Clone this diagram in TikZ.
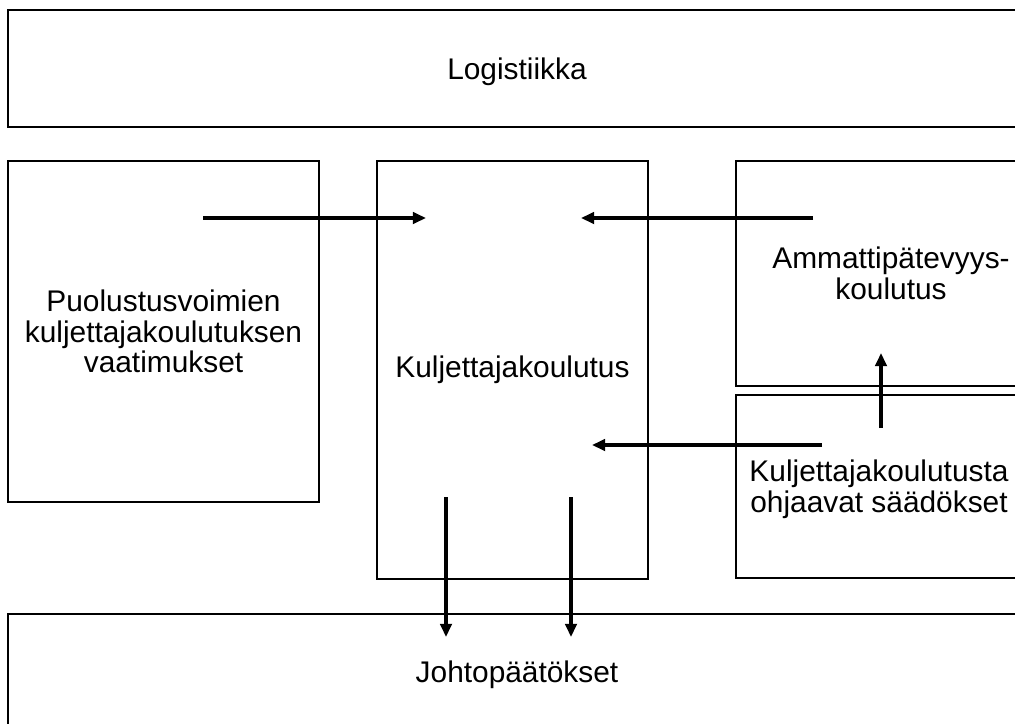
\documentclass[tikz,border=0pt]{standalone}
\usepackage{fontspec}
\setmainfont{Liberation Sans}
\usetikzlibrary{arrows.meta}

\tikzset{
  laatikko/.style={draw, line width=0.8pt, rectangle, inner sep=0pt, outer sep=0pt,
    align=center, font=\fontsize{17}{17.5}\selectfont},
  nuoli/.style={line width=2pt, -{Triangle[length=7.5pt,width=6.5pt]}}
}

\begin{document}
\begin{tikzpicture}[x=0.02cm, y=-0.02cm]
    \useasboundingbox (0,0) rectangle (1015,724);

    % Top and bottom bands
    \node[laatikko, minimum width=20.36cm, minimum height=2.34cm, text depth=-0.03cm] (logi) at (517,68.5) {Logistiikka};
    \node[laatikko, minimum width=20.36cm, minimum height=2.34cm, text depth=0.05cm] (johto) at (517,672.5) {Johtopäätökset};

    % Middle row
    \node[laatikko, minimum width=6.22cm, minimum height=6.82cm] (puol) at (163.5,331.5)
        {Puolustusvoimien\\kuljettajakoulutuksen\\vaatimukset};
    \node[laatikko, minimum width=5.42cm, minimum height=8.36cm] (kulj) at (512.5,370) {Kuljettajakoulutus};
    \node[laatikko, minimum width=6.2cm, minimum height=4.5cm, text depth=-0.05cm] (amm) at (891,273.5)
        {Ammattipätevyys-\\koulutus};
    \node[laatikko, minimum width=5.72cm, minimum height=3.66cm, text depth=-0.3cm] (saad) at (879,486.5)
        {Kuljettajakoulutusta\\ohjaavat säädökset};

    % Arrow end points
    \coordinate (puolA) at (203,218);
    \coordinate (kuljA) at (426,218);
    \coordinate (ammA) at (813,218);
    \coordinate (kuljB) at (581,218);
    \coordinate (saadA) at (822,445);
    \coordinate (kuljC) at (592,445);
    \coordinate (saadB) at (881,428);
    \coordinate (ammB) at (881,353);
    \coordinate (kuljD) at (446,497);
    \coordinate (johtoA) at (446,637);
    \coordinate (kuljE) at (571,497);
    \coordinate (johtoB) at (571,637);

    % Arrows
    \draw[nuoli] (puolA) -- (kuljA);
    \draw[nuoli] (ammA) -- (kuljB);
    \draw[nuoli] (saadA) -- (kuljC);
    \draw[nuoli] (saadB) -- (ammB);
    \draw[nuoli] (kuljD) -- (johtoA);
    \draw[nuoli] (kuljE) -- (johtoB);
\end{tikzpicture}
\end{document}
